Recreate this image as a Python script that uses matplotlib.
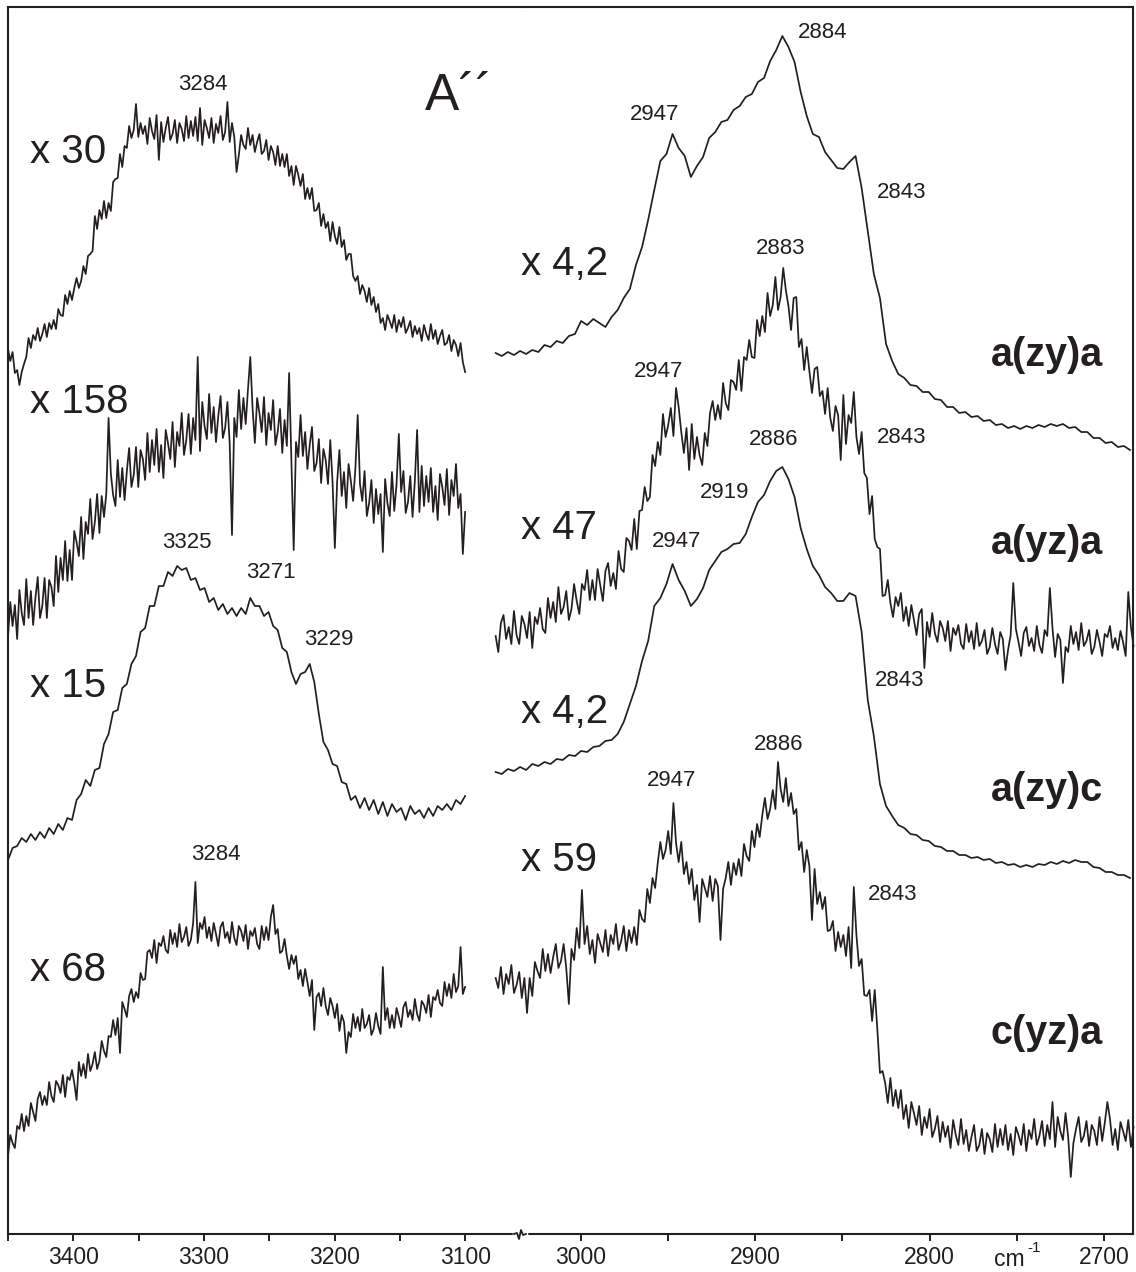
import numpy as np
import matplotlib.pyplot as plt
from matplotlib.lines import Line2D

INK = '#231f20'

# ---- wavenumber sampling (cm-1) ----
HIGH_START = 3450.0    # 3450 -> 3100
LOW_START = 3049.0     # 3049 -> 2683

# ---- spectra: intensity above each trace's own baseline (arb. units) ----
# high-frequency side, top to bottom
hi_azya = [51, 39, 48, 27, 30, 15, 28, 36, 43, 62, 52, 65, 60, 72, 59, 66, 76, 63, 77, 71,
           80, 71, 91, 85, 84, 105, 96, 109, 100, 112, 122, 112, 119, 134, 126, 144, 146, 149, 184, 171,
           190, 181, 199, 182, 197, 189, 218, 221, 222, 246, 233, 254, 252, 274, 262, 270, 296, 263, 277, 266,
           274, 256, 282, 269, 261, 285, 240, 278, 258, 272, 283, 260, 266, 280, 257, 277, 271, 259, 284, 262,
           279, 264, 283, 259, 292, 255, 280, 272, 262, 282, 257, 276, 267, 284, 260, 268, 298, 258, 277, 263,
           228, 245, 265, 255, 251, 272, 255, 265, 248, 258, 266, 246, 249, 260, 240, 254, 248, 235, 254, 234,
           246, 233, 246, 224, 234, 215, 234, 225, 214, 226, 201, 212, 201, 212, 189, 190, 197, 174, 186, 172,
           178, 159, 178, 164, 156, 173, 153, 160, 140, 146, 146, 124, 119, 124, 106, 115, 109, 98, 112, 95,
           103, 88, 96, 77, 82, 70, 85, 79, 72, 85, 68, 80, 73, 83, 67, 72, 79, 63, 74, 66,
           72, 59, 75, 66, 60, 76, 61, 70, 56, 64, 70, 55, 57, 65, 49, 60, 55, 44, 57, 38, 28]
hi_ayza = [23, 58, 34, 55, 21, 70, 47, 35, 81, 42, 69, 35, 62, 83, 42, 54, 82, 42, 80, 73,
           54, 104, 68, 102, 80, 119, 79, 110, 80, 129, 118, 104, 143, 101, 138, 126, 161, 121, 138, 166,
           127, 164, 143, 166, 242, 186, 165, 154, 200, 163, 192, 160, 189, 212, 173, 185, 213, 173, 210, 201,
           180, 227, 188, 220, 195, 231, 188, 215, 182, 230, 217, 201, 238, 193, 228, 214, 247, 205, 220, 246,
           206, 242, 220, 303, 209, 258, 234, 221, 266, 227, 253, 218, 244, 264, 222, 232, 258, 216, 125, 242,
           223, 270, 231, 262, 236, 271, 303, 252, 217, 262, 247, 228, 263, 215, 247, 230, 260, 215, 228, 251,
           207, 240, 214, 287, 197, 110, 218, 203, 245, 204, 228, 191, 215, 233, 189, 197, 221, 177, 211, 200,
           176, 220, 178, 112, 178, 210, 164, 188, 152, 196, 179, 159, 192, 245, 176, 159, 189, 144, 157, 180,
           137, 171, 146, 166, 108, 181, 157, 144, 188, 149, 176, 226, 168, 189, 147, 158, 184, 143, 179, 230,
           148, 194, 154, 184, 158, 192, 148, 174, 140, 186, 173, 155, 191, 145, 180, 164, 196, 152, 166, 106, 148]
hi_azyc = [10, 22, 24, 32, 28, 36, 30, 38, 32, 42,
           36, 46, 40, 52, 50, 70, 76, 90, 84, 100,
           102, 126, 136, 158, 160, 182, 186, 206, 214, 238,
           242, 264, 264, 284, 284, 298, 294, 304, 300, 302,
           290, 292, 280, 282, 268, 272, 260, 266, 256, 262,
           254, 262, 256, 272, 264, 264, 254, 258, 244, 240,
           222, 218, 198, 186, 196, 198, 206, 188, 156, 128,
           120, 106, 104, 88, 86, 70, 74, 62, 72, 60,
           70, 56, 68, 54, 66, 58, 62, 50, 64, 56,
           60, 52, 62, 54, 64, 60, 66, 60, 70, 66,
           74]
hi_cyza = [14, 35, 27, 22, 44, 41, 56, 39, 54, 44, 67, 58, 49, 71, 78, 65, 74, 65, 88, 74,
           68, 89, 85, 77, 95, 73, 93, 90, 100, 87, 70, 108, 94, 106, 92, 116, 99, 106, 118, 101,
           109, 129, 119, 113, 134, 133, 150, 135, 152, 117, 168, 161, 153, 174, 181, 168, 178, 172, 197, 190,
           191, 218, 220, 212, 230, 207, 227, 224, 234, 220, 217, 240, 226, 237, 223, 246, 228, 233, 243, 224,
           230, 247, 288, 227, 247, 241, 253, 232, 243, 229, 247, 236, 224, 243, 248, 232, 238, 227, 248, 232,
           225, 244, 239, 229, 245, 221, 239, 234, 242, 226, 221, 244, 230, 243, 230, 253, 265, 236, 241, 217,
           219, 231, 214, 201, 215, 206, 214, 191, 200, 184, 201, 188, 174, 190, 140, 173, 177, 164, 182, 164,
           155, 172, 164, 152, 166, 139, 155, 148, 117, 138, 133, 156, 142, 153, 139, 161, 142, 146, 155, 135,
           141, 157, 144, 136, 203, 150, 162, 142, 155, 142, 162, 153, 143, 163, 168, 153, 160, 150, 171, 156,
           149, 169, 165, 157, 175, 153, 173, 170, 180, 167, 164, 188, 174, 186, 172, 196, 178, 184, 223, 176, 183]

# low-frequency side, top to bottom
lo_azya = [107, 104, 108, 105, 109, 106, 110, 108, 115, 113,
           119, 117, 124, 126, 139, 135, 141, 137, 133, 143,
           150, 162, 171, 195, 213, 240, 270, 299, 306, 326,
           312, 304, 283, 294, 303, 322, 328, 338, 340, 350,
           354, 363, 366, 378, 382, 399, 410, 424, 413, 398,
           368, 344, 326, 323, 308, 300, 292, 291, 298, 304,
           272, 229, 186, 162, 116, 99, 86, 82, 75, 74,
           68, 68, 61, 60, 53, 53, 47, 48, 43, 44,
           39, 40, 35, 36, 32, 34, 31, 34, 32, 35,
           33, 36, 34, 36, 32, 33, 28, 28, 22, 22,
           17, 18, 13, 14, 10]
lo_ayza = [64, 48, 77, 85, 61, 73, 56, 89, 65, 56, 84, 76, 62, 88, 52, 83, 76, 92, 71, 67,
           102, 82, 98, 78, 113, 86, 93, 109, 80, 91, 116, 99, 86, 116, 110, 130, 100, 120, 100, 131,
           115, 99, 129, 137, 114, 127, 111, 149, 131, 128, 162, 159, 150, 181, 151, 189, 190, 213, 199, 203,
           245, 234, 258, 245, 286, 263, 275, 292, 264, 312, 293, 268, 247, 272, 230, 276, 241, 263, 245, 235,
           267, 254, 287, 299, 280, 295, 281, 317, 297, 290, 320, 318, 310, 340, 309, 343, 340, 360, 343, 342,
           380, 364, 384, 368, 407, 384, 395, 423, 390, 403, 432, 410, 394, 370, 402, 403, 353, 361, 330, 353,
           329, 307, 331, 333, 304, 309, 286, 312, 282, 269, 294, 285, 240, 305, 256, 285, 277, 308, 263, 246,
           268, 227, 222, 186, 204, 161, 153, 151, 104, 105, 120, 97, 83, 103, 94, 107, 79, 93, 74, 95,
           80, 65, 86, 91, 32, 78, 63, 87, 67, 58, 79, 72, 59, 79, 49, 72, 65, 75, 56, 51,
           76, 58, 69, 51, 77, 54, 59, 70, 46, 53, 72, 56, 46, 68, 61, 30, 50, 65, 117, 71,
           58, 44, 67, 73, 54, 62, 49, 74, 55, 47, 70, 64, 112, 72, 43, 66, 60, 17, 53, 48,
           74, 56, 68, 50, 77, 54, 59, 70, 46, 53, 70, 58, 44, 66, 63, 74, 52, 62, 50, 69,
           58, 44, 108, 73, 54]
lo_azyc = [118, 116, 121, 119, 123, 120, 126, 124, 128, 126,
           131, 130, 135, 134, 139, 138, 143, 144, 149, 150,
           156, 168, 186, 204, 229, 249, 284, 292, 306, 326,
           310, 299, 284, 291, 302, 320, 329, 338, 341, 346,
           347, 356, 373, 388, 395, 409, 419, 423, 411, 393,
           362, 341, 324, 315, 303, 297, 289, 289, 297, 294,
           258, 190, 154, 106, 84, 74, 65, 62, 56, 55,
           50, 49, 44, 43, 39, 39, 35, 35, 32, 33,
           30, 31, 27, 28, 25, 26, 23, 25, 23, 26,
           25, 28, 26, 29, 27, 30, 28, 28, 23, 22,
           18, 18, 15, 15, 12]
lo_cyza = [212, 202, 223, 196, 216, 206, 225, 197, 205, 218, 192, 212, 177, 212, 194, 228, 219, 212, 241, 219,
           236, 217, 233, 246, 222, 229, 246, 222, 186, 241, 230, 262, 242, 300, 246, 264, 236, 250, 227, 256,
           247, 238, 260, 234, 255, 246, 266, 240, 249, 264, 239, 260, 247, 263, 245, 280, 271, 268, 301, 287,
           312, 302, 327, 348, 331, 340, 359, 336, 387, 347, 328, 348, 316, 328, 306, 321, 290, 305, 268, 311,
           302, 293, 314, 289, 311, 304, 250, 301, 312, 328, 305, 327, 315, 331, 314, 346, 334, 329, 359, 343,
           366, 353, 375, 392, 371, 381, 400, 381, 428, 401, 388, 412, 384, 397, 376, 381, 340, 348, 318, 340,
           324, 270, 321, 286, 298, 281, 293, 259, 260, 269, 239, 258, 243, 255, 234, 263, 222, 303, 255, 224,
           231, 195, 194, 200, 169, 200, 161, 117, 119, 107, 87, 112, 84, 100, 82, 100, 71, 85, 62, 88,
           77, 65, 84, 55, 73, 62, 81, 53, 61, 74, 48, 68, 53, 64, 42, 70, 55, 45, 71, 46,
           60, 39, 53, 65, 39, 45, 61, 36, 57, 51, 38, 66, 43, 61, 45, 65, 40, 56, 35, 63,
           55, 45, 66, 39, 60, 51, 71, 45, 54, 69, 44, 65, 51, 88, 43, 73, 59, 50, 77, 53,
           13, 47, 61, 73, 48, 54, 69, 44, 65, 59, 45, 73, 49, 67, 88, 71, 45, 61, 40, 68,
           59, 49, 70, 43, 63]

hi_traces = [hi_azya, hi_ayza, hi_azyc, hi_cyza]
hi_steps = [1.75, 1.75, 3.5, 1.75]
hi_scale = ['x 30', 'x 158', 'x 15', 'x 68']
lo_traces = [lo_azya, lo_ayza, lo_azyc, lo_cyza]
lo_steps = [3.5, 1.5, 3.5, 1.5]
lo_scale = ['x 4,2', 'x 47', 'x 4,2', 'x 59']
geometry = ['a(zy)a', 'a(yz)a', 'a(zy)c', 'c(yz)a']

# peak labels: (text, wavenumber of label centre, height)
hi_peaks = [('3284', 3300.7, 1150), ('3325', 3312.9, 691), ('3271', 3248.6, 661),
            ('3229', 3204.2, 594), ('3284', 3290.7, 380)]
lo_peaks = [('2884', 2861.6, 1201), ('2947', 2958.1, 1120), ('2843', 2816.2, 1041),
            ('2883', 2885.7, 985), ('2947', 2955.8, 862), ('2843', 2816.2, 796),
            ('2886', 2889.7, 794), ('2919', 2917.9, 741), ('2947', 2945.4, 692),
            ('2843', 2817.3, 553),
            ('2886', 2886.8, 489), ('2947', 2948.3, 454), ('2843', 2821.4, 339)]

# vertical stacking of the traces
hi_offset = [834, 574, 364, 64]
lo_offset = [774, 534, 344, 44]
hi_scale_y = [1082, 832, 548, 264]
lo_scale_y = [970, 706, 522, 374]
geometry_y = [879, 691, 444, 201]

plt.rcParams['font.family'] = ['Liberation Sans', 'DejaVu Sans']

W, H = 1136, 1272
fig = plt.figure(figsize=(W / 100, H / 100), dpi=100)
x0, xb, x1 = 8 / W, 520.5 / W, 1133 / W
y0, y1 = 1 - 1234 / H, 1 - 7 / H
axL = fig.add_axes([x0, y0, xb - x0, y1 - y0])
axR = fig.add_axes([xb, y0, x1 - xb, y1 - y0])
axR.patch.set_alpha(0)

axL.set_xlim(3450, 3057.6)
axR.set_xlim(3034.75, 2683.3)
for ax in (axL, axR):
    ax.set_ylim(0, 1227)
    ax.set_yticks([])
    for sp in ax.spines.values():
        sp.set_linewidth(1.5)
        sp.set_color(INK)
    ax.tick_params(axis='x', which='both', direction='out', length=5, width=1.4,
                   color=INK, labelsize=16.5, pad=4, labelcolor=INK)
axL.spines['right'].set_visible(False)
axR.spines['left'].set_visible(False)

axL.set_xticks([3400, 3300, 3200, 3100])
axL.set_xticks([3450, 3350, 3250, 3150], minor=True)
axR.set_xticks([3000, 2900, 2800, 2700])
axR.set_xticks([2950, 2850, 2750], minor=True)

# spectra
for vals, step, off in zip(hi_traces, hi_steps, hi_offset):
    w = HIGH_START - step * np.arange(len(vals))
    axL.plot(w, off + np.asarray(vals), color=INK, lw=1.25, clip_on=False)
for vals, step, off in zip(lo_traces, lo_steps, lo_offset):
    w = LOW_START - step * np.arange(len(vals))
    axR.plot(w, off + np.asarray(vals), color=INK, lw=1.25, clip_on=False)

# annotations
for s, wn, y in hi_peaks:
    axL.text(wn, y, s, ha='center', va='center', fontsize=16, color=INK)
for s, wn, y in lo_peaks:
    axR.text(wn, y, s, ha='center', va='center', fontsize=16, color=INK, clip_on=False)
for s, y in zip(hi_scale, hi_scale_y):
    axL.text(3433.2, y, s, ha='left', va='center', fontsize=29, color=INK)
for s, y in zip(lo_scale, lo_scale_y):
    axR.text(3034.5, y, s, ha='left', va='center', fontsize=29, color=INK, clip_on=False)
for s, y in zip(geometry, geometry_y):
    axR.text(2765, y, s, ha='left', va='center', fontsize=28.5, fontweight='bold',
             color=INK)
axL.text(3130.7, 1138, 'A\u00b4\u00b4', ha='left', va='center', fontsize=37, color=INK)

# unit label sits among the tick labels
xt = axR.get_xaxis_transform()
axR.text(2754, -32 / 1227, 'cm', transform=xt, ha='center', va='baseline',
         fontsize=16.5, color=INK)
axR.text(2740, -18 / 1227, '-1', transform=xt, ha='center', va='baseline',
         fontsize=11, color=INK)

# break mark on the wavenumber axis
bx = [514, 517, 519, 521, 523, 526]
by = [1234, 1233, 1239, 1230, 1235, 1234]
fig.add_artist(Line2D([514 / W, 526 / W], [1 - 1234 / H] * 2, color='white', lw=2.5))
fig.add_artist(Line2D([v / W for v in bx], [1 - v / H for v in by], color=INK, lw=1.3))

fig.savefig('out.png', dpi=100)
